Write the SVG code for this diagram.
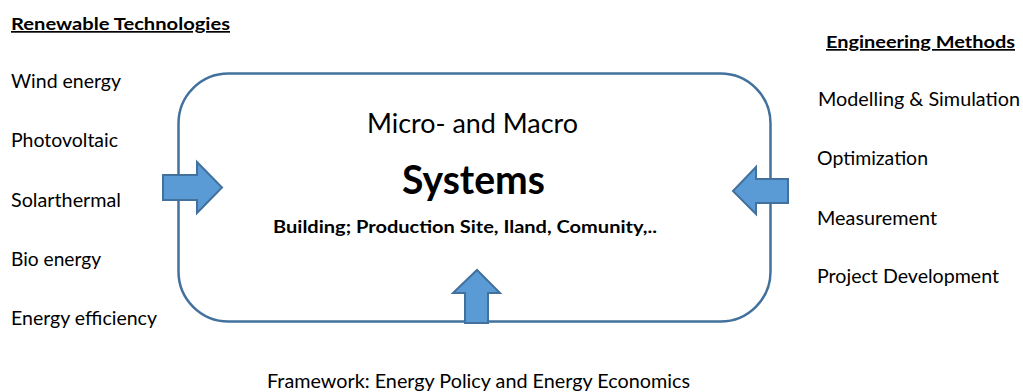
<svg xmlns="http://www.w3.org/2000/svg" width="1023" height="392" viewBox="0 0 1023 392">
<style>
text{font-family:Lato,"Open Sans","Liberation Sans",sans-serif;fill:#000}
.t{font-size:18.5px}
.h{font-size:17px;font-weight:bold;text-decoration:underline}
.arrow{fill:#5B9BD5;stroke:#41719C;stroke-width:2;stroke-linejoin:miter}
.box{fill:#fff;stroke:#41719C;stroke-width:2.5}
</style>
<rect width="1023" height="392" fill="#fff"/>
<g id="systems">
<rect class="box" x="178.5" y="73.5" width="592" height="248" rx="50" ry="50"/>
<text x="367" y="133" style="font-size:27px" textLength="211" lengthAdjust="spacingAndGlyphs">Micro- and Macro</text>
<text x="402" y="194" style="font-size:41px;font-weight:bold" textLength="143" lengthAdjust="spacingAndGlyphs">Systems</text>
<text x="273" y="233" style="font-size:16.5px;font-weight:bold" textLength="384" lengthAdjust="spacingAndGlyphs">Building; Production Site, Iland, Comunity,..</text>
</g>
<g id="renewable">
<text class="h" x="11" y="30" textLength="219" lengthAdjust="spacingAndGlyphs">Renewable Technologies</text>
<text class="t" x="11" y="88" textLength="110" lengthAdjust="spacingAndGlyphs">Wind energy</text>
<text class="t" x="11" y="147" textLength="107" lengthAdjust="spacingAndGlyphs">Photovoltaic</text>
<text class="t" x="11" y="207" textLength="110" lengthAdjust="spacingAndGlyphs">Solarthermal</text>
<text class="t" x="11" y="266" textLength="90" lengthAdjust="spacingAndGlyphs">Bio energy</text>
<text class="t" x="11" y="325" textLength="146" lengthAdjust="spacingAndGlyphs">Energy efficiency</text>
</g>
<g id="engineering">
<text class="h" x="826" y="48" textLength="189" lengthAdjust="spacingAndGlyphs">Engineering Methods</text>
<text class="t" x="818" y="106" textLength="202" lengthAdjust="spacingAndGlyphs">Modelling &amp; Simulation</text>
<text class="t" x="817" y="165" textLength="111" lengthAdjust="spacingAndGlyphs">Optimization</text>
<text class="t" x="817" y="225" textLength="120" lengthAdjust="spacingAndGlyphs">Measurement</text>
<text class="t" x="817" y="283" textLength="182" lengthAdjust="spacingAndGlyphs">Project Development</text>
</g>
<g id="framework">
<text class="t" x="267" y="388" textLength="423" lengthAdjust="spacingAndGlyphs">Framework: Energy Policy and Energy Economics</text>
</g>
<g id="connectors">
<polygon class="arrow" points="163,175 197,175 197,162 222,187.5 197,213 197,200 163,200"/>
<polygon class="arrow" points="788,179 756,179 756,167 733,191 756,214 756,203 788,203"/>
<polygon class="arrow" points="465,323 465,293 453,293 477,270 500,293 488,293 488,323"/>
</g>
</svg>
